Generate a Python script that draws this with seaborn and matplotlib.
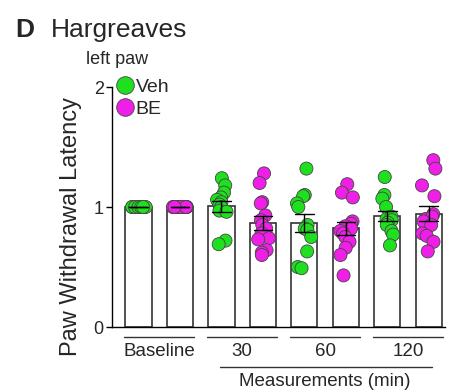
import numpy as np
import pandas as pd
import matplotlib
matplotlib.use("Agg")
import matplotlib.pyplot as plt
import seaborn as sns

# ---- data ----
timepoints = ["Baseline", "30", "60", "120"]
treatments = ["Veh", "BE"]
veh_baseline = [1.0] * 12
be_baseline = [1.0] * 14
veh_30 = [1.24, 1.18, 1.12, 1.08, 1.06, 1.04, 1.02, 1.00, 0.97, 0.96, 0.72, 0.69]
be_30 = [1.28, 1.20, 1.04, 1.03, 0.93, 0.89, 0.85, 0.82, 0.78, 0.74, 0.73, 0.64, 0.62, 0.60]
veh_60 = [1.32, 1.10, 1.09, 1.03, 1.00, 0.85, 0.82, 0.81, 0.75, 0.63, 0.50, 0.49]
be_60 = [1.19, 1.12, 1.08, 0.88, 0.86, 0.84, 0.82, 0.80, 0.78, 0.75, 0.71, 0.66, 0.60, 0.43]
veh_120 = [1.25, 1.10, 1.07, 1.00, 0.90, 0.92, 0.89, 0.87, 0.85, 0.80, 0.77, 0.68]
be_120 = [1.39, 1.32, 1.18, 1.09, 0.90, 0.88, 0.94, 0.92, 0.88, 0.85, 0.78, 0.76, 0.71, 0.63]
y_ticks = [0, 1, 2]

series = {
    ("Baseline", "Veh"): veh_baseline, ("Baseline", "BE"): be_baseline,
    ("30", "Veh"): veh_30, ("30", "BE"): be_30,
    ("60", "Veh"): veh_60, ("60", "BE"): be_60,
    ("120", "Veh"): veh_120, ("120", "BE"): be_120,
}
rows = []
order = []
for t in timepoints:
    for g in treatments:
        key = f"{t}|{g}"
        order.append(key)
        for v in series[(t, g)]:
            rows.append({"cond": key, "Treatment": g, "Latency": v})
df = pd.DataFrame(rows)

palette = {"Veh": "#1fe01f", "BE": "#f01fe8"}

sns.set_style("ticks")
plt.rcParams["font.family"] = ["Liberation Sans", "DejaVu Sans"]

fig = plt.figure(figsize=(4.5, 3.92), dpi=100)
ax = fig.add_axes([112 / 450, 1 - 327 / 392, (445 - 112) / 450, 240 / 392])

sns.barplot(data=df, x="cond", y="Latency", order=order, color="white",
            edgecolor="#333333", linewidth=1.2, width=0.63, errorbar="se",
            capsize=0.45, err_kws={"color": "black", "linewidth": 1.0},
            legend=False, ax=ax)
for ln in ax.lines:
    ln.set_zorder(5)

np.random.seed(7)
sns.stripplot(data=df, x="cond", y="Latency", order=order, hue="Treatment",
              hue_order=treatments, palette=palette, jitter=0.18, size=9.4,
              edgecolor="#444444", linewidth=0.6, ax=ax, zorder=3)

h, l = ax.get_legend_handles_labels()
ax.legend(h, l, loc="upper left", bbox_to_anchor=(0.012, 1.035), frameon=False,
          borderpad=0, borderaxespad=0, handlelength=0.9, handletextpad=0.1,
          labelspacing=0.2, markerscale=1.35, fontsize=14)

ax.set_ylim(0, 2)
ax.set_xlim(-0.64, 7.39)
ax.set_yticks(y_ticks)
ax.set_yticklabels([str(v) for v in y_ticks], fontsize=13)
ax.set_xticks([])
ax.set_xlabel("")
ax.tick_params(axis="y", length=4, width=1, pad=2, color="black")
for s in ["top", "right"]:
    ax.spines[s].set_visible(False)
for s in ["left", "bottom"]:
    ax.spines[s].set_color("black")
    ax.spines[s].set_linewidth(1.0)

ax.set_ylabel("Paw Withdrawal Latency", fontsize=17)
ax.yaxis.set_label_coords(-0.122, 0.42)
ax.yaxis.label.set_verticalalignment("center")

trans = ax.get_xaxis_transform()
for i, t in enumerate(timepoints):
    c = 2 * i + 0.5
    ax.plot([c - 0.85, c + 0.83], [-0.042, -0.042], transform=trans,
            color="#333333", lw=1.0, clip_on=False)
    ax.text(c, -0.103, t, transform=trans, ha="center", va="center", fontsize=13.5)
ax.plot([1.96, 7.07], [-0.165, -0.165], transform=trans, color="#333333",
        lw=1.0, clip_on=False)
ax.text(4.48, -0.228, "Measurements (min)", transform=trans, ha="center",
        va="center", fontsize=13.5)

fig.text(15 / 450, 1 - 30 / 392, "D", fontsize=19, fontweight="bold", va="center")
fig.text(51 / 450, 1 - 30 / 392, "Hargreaves", fontsize=19, va="center")
fig.text(117 / 450, 1 - 59 / 392, "left paw", fontsize=13, ha="center", va="center")

fig.savefig("out.png", dpi=100)
